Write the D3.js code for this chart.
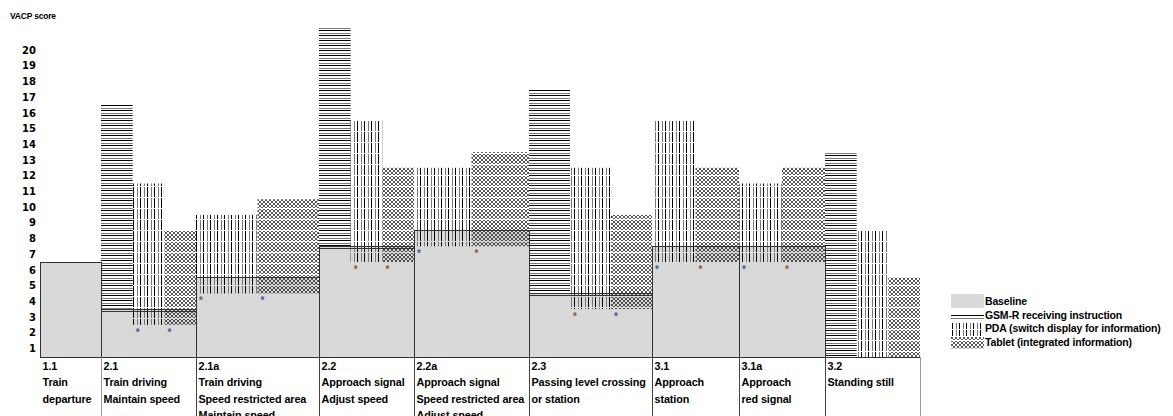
<!DOCTYPE html>
<html>
<head>
<meta charset="utf-8">
<script src="https://cdn.jsdelivr.net/npm/d3@7"></script>
<style>
  html, body { margin: 0; padding: 0; background: #fff; }
  svg { display: block; }
  text { font-family: "Liberation Sans", Arial, sans-serif; font-weight: bold; fill: #000; }
</style>
</head>
<body>
<svg id="chart" width="1173" height="416"></svg>
<script>
// ---- data -------------------------------------------------------------
const taskCodes = ["1.1", "2.1", "2.1a", "2.2", "2.2a", "2.3", "3.1", "3.1a", "3.2"];
const taskNames = [
  ["Train", "departure"],
  ["Train driving", "Maintain speed"],
  ["Train driving", "Speed restricted area", "Maintain speed"],
  ["Approach signal", "Adjust speed"],
  ["Approach signal", "Speed restricted area", "Adjust speed"],
  ["Passing level crossing", "or station"],
  ["Approach", "station"],
  ["Approach", "red signal"],
  ["Standing still"]
];

// VACP scores per task (null = not measured)
const baselineScore = [6.5, 3.5, 5.5, 7.5, 8.5, 4.5, 7.5, 7.5, null];
const gsmrScore     = [null, 16.5, null, 21.5, null, 17.5, null, null, 13.5];
const pdaScore      = [null, 11.5, 9.5, 15.5, 12.5, 12.5, 15.5, 11.5, 8.5];
const tabletScore   = [null, 8.5, 10.5, 12.5, 13.5, 9.5, 12.5, 12.5, 5.5];
// lower ends of the PDA / tablet ranges
const pdaLow        = [null, 2.5, 4.5, 6.5, 7.5, 3.5, 6.5, 6.5, null];
const tabletLow     = [null, 2.5, 4.5, 6.5, 7.5, 3.5, 6.5, 6.5, null];
// significance markers under the PDA / tablet ranges
const pdaMark       = [null, "a", "b", "b", "a", "b", "a", "a", null];
const tabletMark    = [null, "a", "a", "b", "b", "a", "b", "b", null];

const yTickValues = d3.range(1, 21);
const seriesNames = ["Baseline", "GSM-R receiving instruction",
                     "PDA (switch display for information)", "Tablet (integrated information)"];

// ---- layout -----------------------------------------------------------
const W = 1173, H = 416;
const plotLeft = 40, plotRight = 920, plotBottom = 357;
const scoreFloor = 0.45, scoreTop = 21.5;
// relative width of each task column
const columnSpan = [61, 95, 123, 95, 115, 123, 87, 86, 95];

const svg = d3.select("#chart");

const y = d3.scaleLinear().domain([scoreFloor, scoreTop]).range([plotBottom, 26.5]);

const cum = [0, ...d3.cumsum(columnSpan)];
const xCol = d3.scaleLinear().domain([0, cum[cum.length - 1]]).range([plotLeft, plotRight]);
const colLeft = i => xCol(cum[i]);
const colRight = i => xCol(cum[i + 1]);

// ---- patterns ---------------------------------------------------------
const defs = svg.append("defs");

// GSM-R: horizontal lines, alternating dark and grey
const pG = defs.append("pattern").attr("id", "pat-gsmr")
  .attr("patternUnits", "userSpaceOnUse").attr("width", 4).attr("height", 5);
pG.append("rect").attr("x", 0).attr("y", 0).attr("width", 4).attr("height", 1).attr("fill", "#000");
pG.append("rect").attr("x", 0).attr("y", 3).attr("width", 4).attr("height", 1).attr("fill", "#7a7a7a");

// PDA: vertical lines, alternating dark and grey, with a small break every row
const pP = defs.append("pattern").attr("id", "pat-pda")
  .attr("patternUnits", "userSpaceOnUse").attr("width", 7).attr("height", 11);
pP.append("rect").attr("x", 0).attr("y", 0).attr("width", 1).attr("height", 10).attr("fill", "#000");
pP.append("rect").attr("x", 4).attr("y", 0).attr("width", 1).attr("height", 10).attr("fill", "#777");

// Tablet: fine cross-hatch
const pT = defs.append("pattern").attr("id", "pat-tablet")
  .attr("patternUnits", "userSpaceOnUse").attr("width", 4).attr("height", 11);
pT.append("path")
  .attr("d", "M0,0L4,4M4,0L0,4M0,4L4,8M4,4L0,8M0,8L2,10L4,8")
  .attr("stroke", "#111").attr("stroke-width", 0.7).attr("fill", "none");

const fills = { gsmr: "url(#pat-gsmr)", pda: "url(#pat-pda)", tablet: "url(#pat-tablet)" };

// ---- baseline areas ---------------------------------------------------
const tasks = taskCodes.map((code, i) => ({
  i, code,
  names: taskNames[i],
  base: baselineScore[i],
  bars: [
    { key: "gsmr", hi: gsmrScore[i], lo: baselineScore[i] ?? scoreFloor, mark: null },
    { key: "pda", hi: pdaScore[i], lo: pdaLow[i] ?? scoreFloor, mark: pdaMark[i] },
    { key: "tablet", hi: tabletScore[i], lo: tabletLow[i] ?? scoreFloor, mark: tabletMark[i] }
  ].filter(b => b.hi != null)
}));

const withBase = tasks.filter(t => t.base != null);

svg.append("g").selectAll("rect").data(withBase).join("rect")
  .attr("x", t => colLeft(t.i)).attr("width", t => colRight(t.i) - colLeft(t.i))
  .attr("y", t => y(t.base)).attr("height", t => plotBottom - y(t.base))
  .attr("fill", "#d9d9d9");

// ---- device bars ------------------------------------------------------
const barG = svg.append("g");
tasks.forEach(t => {
  const xb = d3.scaleBand().domain(t.bars.map(b => b.key))
    .range([colLeft(t.i), colRight(t.i)]).padding(0);
  t.xb = xb;
  barG.selectAll(null).data(t.bars).join("rect")
    .attr("x", b => xb(b.key)).attr("width", xb.bandwidth())
    .attr("y", b => y(b.hi)).attr("height", b => y(b.lo) - y(b.hi))
    .attr("fill", b => fills[b.key]);
});

// ---- baseline outlines ------------------------------------------------
const outG = svg.append("g").attr("shape-rendering", "crispEdges")
  .attr("stroke", "#333").attr("fill", "none");
outG.selectAll("rect").data(withBase).join("rect")
  .attr("x", t => colLeft(t.i)).attr("width", t => colRight(t.i) - colLeft(t.i))
  .attr("y", t => y(t.base)).attr("height", t => plotBottom - y(t.base));
// second rule under the baseline top where a GSM-R range starts there
outG.selectAll("line").data(withBase.filter(t => gsmrScore[t.i] != null)).join("line")
  .attr("x1", t => colLeft(t.i)).attr("x2", t => colRight(t.i))
  .attr("y1", t => y(t.base) + 2).attr("y2", t => y(t.base) + 2);

// ---- significance markers ---------------------------------------------
const markColor = { a: "#3b5a9c", b: "#8a5a3a" };
const markG = svg.append("g");
tasks.forEach(t => {
  markG.selectAll(null).data(t.bars.filter(b => b.mark)).join("text")
    .attr("x", b => t.xb(b.key) + 5)
    .attr("y", b => y(b.lo) + 11)
    .attr("text-anchor", "middle")
    .style("font-size", "10px")
    .style("fill", b => markColor[b.mark])
    .text("*");
});

// ---- x axis line and task label table -------------------------------
svg.append("line").attr("shape-rendering", "crispEdges")
  .attr("x1", plotLeft).attr("x2", plotRight).attr("y1", plotBottom).attr("y2", plotBottom)
  .attr("stroke", "#333");

const sepEdges = d3.range(1, taskCodes.length + 1);
svg.append("g").attr("shape-rendering", "crispEdges").selectAll("line").data(sepEdges).join("line")
  .attr("x1", i => xCol(cum[i])).attr("x2", i => xCol(cum[i]))
  .attr("y1", plotBottom).attr("y2", H)
  .attr("stroke", i => (i === 1 || i === taskCodes.length) ? "#9a9a9a" : "#444");

const labG = svg.append("g");
tasks.forEach(t => {
  const lines = [t.code, ...t.names];
  labG.selectAll(null).data(lines).join("text")
    .attr("x", colLeft(t.i) + 2.5)
    .attr("y", (d, k) => 370 + k * 16.3)
    .style("font-size", "10.8px")
    .style("letter-spacing", "-0.1px")
    .text(d => d);
});

// ---- y axis -----------------------------------------------------------
const yAxis = d3.axisLeft(y).tickValues(yTickValues).tickSize(0).tickPadding(0)
  .tickFormat(d3.format("d"));
const yg = svg.append("g").attr("transform", "translate(36,0)").call(yAxis);
yg.select(".domain").remove();
yg.selectAll("text")
  .attr("fill", "#000")
  .style("font-family", "'DejaVu Sans', sans-serif")
  .style("font-weight", "bold")
  .style("font-size", "10px");

svg.append("text").attr("x", 10).attr("y", 19)
  .style("font-size", "8.5px").style("letter-spacing", "-0.2px")
  .text("VACP score");

// ---- legend -----------------------------------------------------------
const legendItems = [
  { name: seriesNames[0], fill: "#d9d9d9", top: 294, h: 14 },
  { name: seriesNames[1], fill: fills.gsmr, top: 314.5, h: 4.5 },
  { name: seriesNames[2], fill: fills.pda, top: 323, h: 13 },
  { name: seriesNames[3], fill: fills.tablet, top: 337, h: 11.5 }
];
const legG = svg.append("g");
const legRows = legG.selectAll("g").data(legendItems).join("g");
legRows.append("rect")
  .attr("x", 951).attr("width", 33)
  .attr("y", d => d.top).attr("height", d => d.h)
  .attr("fill", d => d.fill);
legRows.append("text")
  .attr("x", 985)
  .attr("y", (d, k) => 305 + k * 13.6)
  .style("font-size", "10.5px")
  .style("letter-spacing", "-0.15px")
  .text(d => d.name);
</script>
</body>
</html>
